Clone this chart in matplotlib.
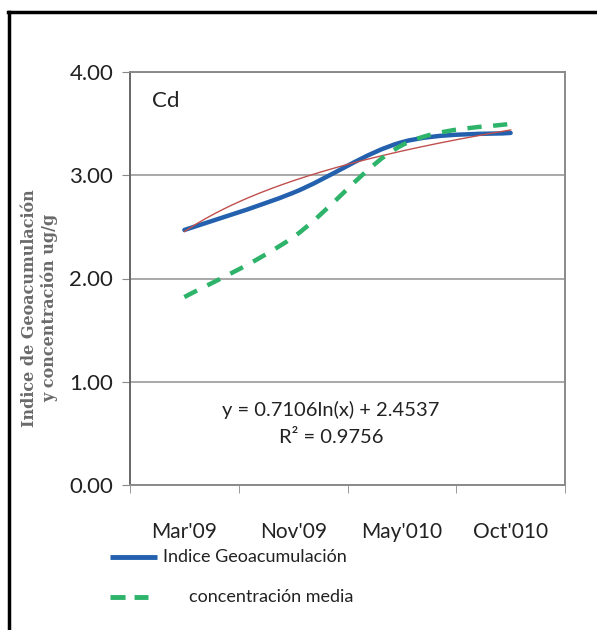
import numpy as np
import matplotlib
matplotlib.use("Agg")
import matplotlib.pyplot as plt
from matplotlib.path import Path
from matplotlib.patches import PathPatch
from matplotlib.lines import Line2D

categories = ["Mar'09", "Nov'09", "May'010", "Oct'010"]
indice_geo = [2.47, 2.83, 3.32, 3.41]
conc_media = [1.82, 2.40, 3.29, 3.50]
trend_a, trend_b = 0.7106, 2.4537
yticks = [0.0, 1.0, 2.0, 3.0, 4.0]
legend_labels = ['Indice Geoacumulación', 'concentración media']

font_main = ['Lato', 'DejaVu Sans']
BLUE = '#2361AE'
GREEN = '#2DB36A'

fig = plt.figure(figsize=(5.97, 6.30), dpi=100)
fig.patch.set_facecolor('white')
ax = fig.add_axes([130/597, 1-485/630, 435/597, 413/630])

x = np.arange(1, len(categories) + 1)


def smooth_path(xs, ys, t=1/6):
    pts = np.column_stack([xs, ys]).astype(float)
    n = len(pts)
    verts = [pts[0]]
    codes = [Path.MOVETO]
    for i in range(n - 1):
        p0 = pts[i - 1] if i > 0 else pts[i]
        p1 = pts[i]
        p2 = pts[i + 1]
        p3 = pts[i + 2] if i + 2 < n else pts[i + 1]
        c1 = p1 + (p2 - p0) * t
        c2 = p2 - (p3 - p1) * t
        verts += [c1, c2, p2]
        codes += [Path.CURVE4] * 3
    return Path(verts, codes)


# trendline
xt = np.linspace(1, 4, 200)
ax.plot(xt, trend_a * np.log(xt) + trend_b, color='#C0504D', lw=1.0, zorder=4)

ax.add_patch(PathPatch(smooth_path(x, indice_geo), facecolor='none',
                       edgecolor=BLUE, lw=3.2, zorder=3, capstyle='round'))
ax.add_patch(PathPatch(smooth_path(x, conc_media), facecolor='none',
                       edgecolor=GREEN, lw=3.2, ls=(0, (3.2, 2.6)), zorder=5))

ax.set_xlim(0.5, 4.5)
ax.set_ylim(0, 4)
ax.set_yticks(yticks)
ax.set_yticklabels([f"{v:.2f}" for v in yticks], fontfamily=font_main, fontsize=16, color='#222222')
ax.set_xticks(x)
ax.set_xticklabels(categories, fontfamily=font_main, fontsize=15, color='#222222')
ax.set_xticks(np.arange(0.5, 4.6, 1.0), minor=True)
ax.tick_params(axis='x', which='major', length=0, pad=34)
for lab in ax.get_xticklabels():
    lab.set_va('center')
ax.tick_params(axis='x', which='minor', length=6, color='#888888', direction='out')
ax.tick_params(axis='y', length=6, color='#888888', direction='out', pad=6)

ax.grid(axis='y', color='#9a9a9a', lw=1.2)
ax.set_axisbelow(True)
for s in ['top', 'right', 'bottom']:
    ax.spines[s].set_color('#8a8a8a')
    ax.spines[s].set_linewidth(1.4)
ax.spines['left'].set_color('#666666')
ax.spines['left'].set_linewidth(1.4)

ax.text(0.05, 0.93, 'Cd', transform=ax.transAxes, fontfamily=font_main,
        fontsize=16, color='#222222', va='center', ha='left')
ax.text(0.462, 0.182, 'y = 0.7106ln(x) + 2.4537', transform=ax.transAxes,
        fontfamily=font_main, fontsize=14.5, ha='center', va='center', color='#222222')
ax.text(0.462, 0.114, 'R² = 0.9756', transform=ax.transAxes,
        fontfamily=font_main, fontsize=14.5, ha='center', va='center', color='#222222')

fig.text(40/597, 1-308/630, 'Indice de Geoacumulación\ny concentración ug/g',
         rotation=90, fontfamily=['DejaVu Serif'], fontsize=11.5,
         fontweight='bold', color='#6a6a6a', ha='center', va='center', linespacing=1.2)

# legend drawn manually (Excel-like layout)
fig.add_artist(Line2D([110/597, 157/597], [1-557/630, 1-557/630], transform=fig.transFigure,
                      color=BLUE, lw=3.5, solid_capstyle='butt'))
fig.text(163/597, 1-557/630, legend_labels[0], fontfamily=font_main, fontsize=13,
         va='center', ha='left', color='#222222')
fig.add_artist(Line2D([110/597, 148/597], [1-597/630, 1-597/630], transform=fig.transFigure,
                      color=GREEN, lw=3.5, ls=(0, (3.1, 1.85)), dash_capstyle='butt'))
fig.text(189/597, 1-597/630, legend_labels[1], fontfamily=font_main, fontsize=13,
         va='center', ha='left', color='#222222')

# outer border (top and left)
fig.add_artist(Line2D([9/597, 9/597], [0, 1-12/630], transform=fig.transFigure,
                      color='black', lw=2.5))
fig.add_artist(Line2D([8/597, 1], [1-12/630, 1-12/630], transform=fig.transFigure,
                      color='black', lw=2.5))

fig.savefig('out.png', dpi=100, facecolor='white')
